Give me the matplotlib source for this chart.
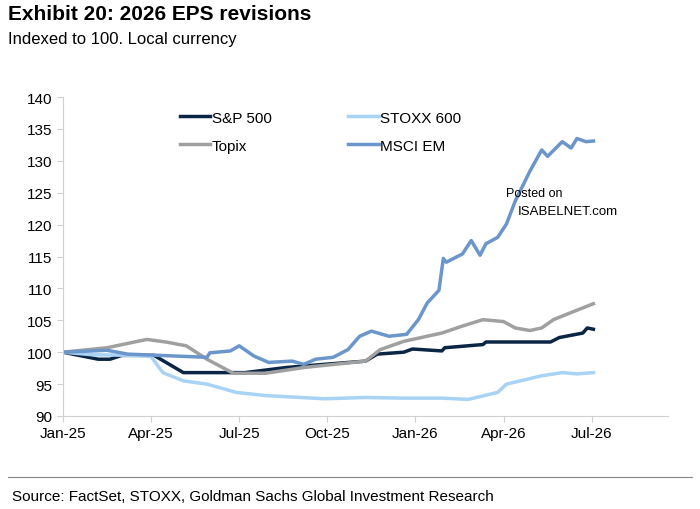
import matplotlib
matplotlib.use("Agg")
import matplotlib.pyplot as plt

sp_x = [0,1.2,1.6,2.0,3.1,4.1,6.2,7.6,8.9,10.3,10.7,11.6,11.9,12.9,13.0,14.3,14.4,16.6,16.9,17.7,17.85,18.06]
sp_y = [100,98.9,98.9,99.5,99.5,96.8,96.8,97.6,98.1,98.6,99.7,100,100.5,100.2,100.7,101.2,101.6,101.6,102.3,103,103.8,103.6]
st_x = [0,1,2.5,3.0,3.4,4.1,4.9,5.9,6.9,8.9,10.3,11.6,12.9,13.8,14.8,15.1,16.3,17.0,17.5,18.06]
st_y = [100,99.6,99.5,99.3,96.8,95.5,95.0,93.7,93.2,92.7,92.9,92.8,92.8,92.6,93.7,95.0,96.3,96.8,96.6,96.8]
tp_x = [0,1.5,2.85,3.5,4.2,4.9,5.8,6.9,8.2,10.3,10.8,11.6,12.9,13.6,14.3,15.0,15.4,15.9,16.3,16.7,17.4,18.06]
tp_y = [100,100.7,102,101.6,101,98.9,96.7,96.7,97.6,98.6,100.4,101.7,103,104.1,105.1,104.8,103.8,103.4,103.8,105.1,106.4,107.6]
em_x = [0,1.5,2.2,4.9,5.0,5.7,6.0,6.5,7.0,7.8,8.2,8.6,9.2,9.7,10.1,10.5,11.1,11.7,12.1,12.4,12.8,12.95,13.05,13.6,13.9,14.2,14.4,14.8,15.1,15.4,15.9,16.3,16.5,17.0,17.3,17.5,17.8,18.06]
em_y = [100,100.3,99.7,99.2,99.9,100.2,101,99.4,98.4,98.6,98.1,98.9,99.2,100.4,102.5,103.3,102.5,102.8,105.1,107.7,109.7,114.7,114.1,115.4,117.5,115.2,117,118,120.1,123.7,128.4,131.7,130.7,133,132,133.5,133.0,133.1]
tick_pos = [0,3,6,9,12,15,18]
tick_lab = ["Jan-25","Apr-25","Jul-25","Oct-25","Jan-26","Apr-26","Jul-26"]
y_ticks = list(range(90,141,5))

plt.rcParams['font.family'] = ['Liberation Sans','DejaVu Sans']
fig = plt.figure(figsize=(7,5.1), dpi=100)
ax = fig.add_axes([63/700, 1-417/510, (668-63)/700, (417-98)/510])
ax.plot(sp_x, sp_y, color="#0b2545", lw=2.5, label="S&P 500")
ax.plot(st_x, st_y, color="#a9d3f5", lw=2.5, label="STOXX 600")
ax.plot(tp_x, tp_y, color="#a0a0a0", lw=2.5, label="Topix")
ax.plot(em_x, em_y, color="#6a96cc", lw=2.5, label="MSCI EM")
ax.set_xlim(0, 20.6)
ax.set_ylim(90, 140)
ax.set_xticks(tick_pos, tick_lab)
ax.set_yticks(y_ticks)
ax.tick_params(labelsize=11, length=4, color="#d0d0d0")
for s in ["top","right"]:
    ax.spines[s].set_visible(False)
for s in ["left","bottom"]:
    ax.spines[s].set_color("#d0d0d0")
h, l = ax.get_legend_handles_labels()
order = [0,2,1,3]
ax.legend([h[i] for i in order],[l[i] for i in order], ncol=2, frameon=False, loc="upper left",
          bbox_to_anchor=(0.17,1.0), fontsize=11, handlelength=2, handletextpad=0.1, columnspacing=5, labelspacing=0.9)
ax.text(15.1, 124.5, "Posted on", fontsize=9)
ax.text(15.5, 121.6, "ISABELNET.com", fontsize=9.5)
fig.text(8/700, 1-15/510, "Exhibit 20: 2026 EPS revisions", fontsize=15, fontweight="bold", va="center")
fig.text(8/700, 1-40/510, "Indexed to 100. Local currency", fontsize=12, va="center")
fig.add_artist(plt.Line2D([8/700, 692/700],[1-478/510,1-478/510], color="#888888", lw=0.8))
fig.text(12/700, 1-497/510, "Source: FactSet, STOXX, Goldman Sachs Global Investment Research", fontsize=11, va="center")
fig.savefig("out.png", dpi=100)
